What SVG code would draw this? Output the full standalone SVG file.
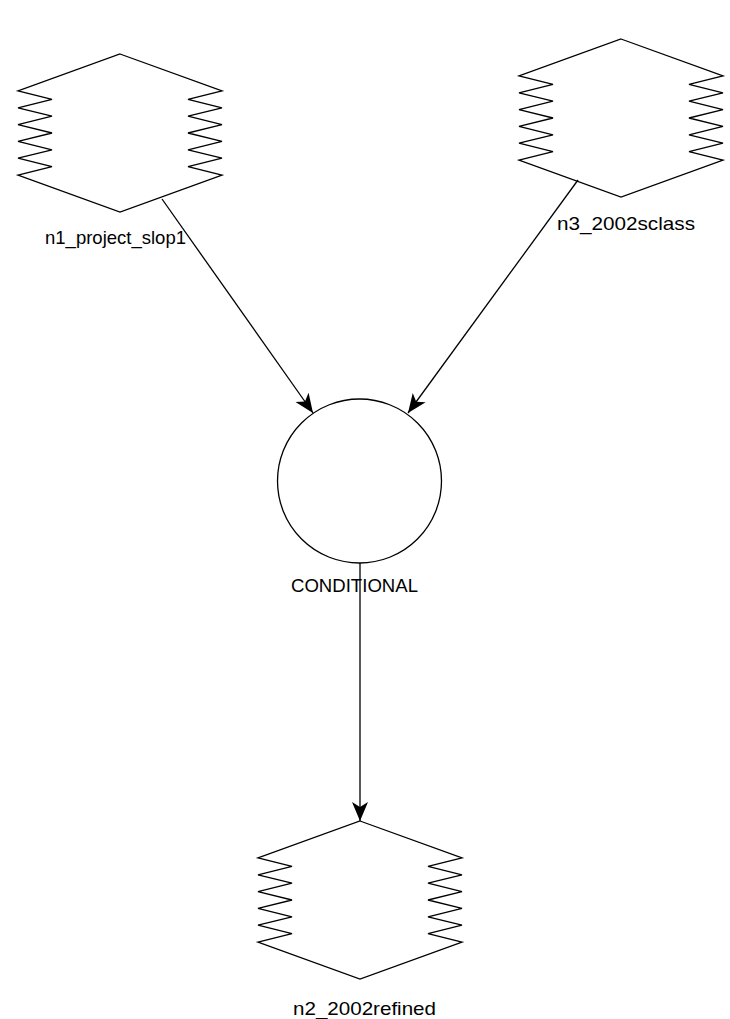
<svg xmlns="http://www.w3.org/2000/svg" width="730" height="1019" viewBox="0 0 730 1019">
  <defs>
    <style>
      .shape { fill: #ffffff; stroke: #000000; stroke-width: 1.3; stroke-linejoin: miter; }
      .label { font-family: "Liberation Sans", Arial, sans-serif; font-size: 19px; fill: #000000; }
      .edge { fill: none; stroke: #000000; stroke-width: 1.3; }
    </style>
    <marker id="arrow" viewBox="-22 -10 24 20" refX="0" refY="0" markerWidth="24" markerHeight="20" markerUnits="userSpaceOnUse" orient="auto">
      <path d="M0,0 L-19,-8 L-14,0 L-19,8 Z" fill="#000000"/>
    </marker>
    <path id="store" class="shape" d="M0,0 L102,37 L68,45.4 L102,53.8 L68,62.2 L102,70.6 L68,79 L102,87.4 L68,95.8 L102,104.2 L68,112.6 L102,121 L0,158 L-102,121 L-68,112.6 L-102,104.2 L-68,95.8 L-102,87.4 L-68,79 L-102,70.6 L-68,62.2 L-102,53.8 L-68,45.4 L-102,37 Z"/>
  </defs>
  <rect x="0" y="0" width="730" height="1019" fill="#ffffff"/>

  <g id="n1_project_slop1">
    <use href="#store" x="120" y="54"/>
    <text class="label" x="45" y="244" textLength="141" lengthAdjust="spacingAndGlyphs">n1_project_slop1</text>
  </g>

  <g id="n3_2002sclass">
    <use href="#store" x="621" y="39"/>
    <text class="label" x="557" y="230" textLength="138" lengthAdjust="spacingAndGlyphs">n3_2002sclass</text>
  </g>

  <g id="conditional">
    <circle class="shape" cx="359.5" cy="481" r="82"/>
    <text class="label" x="291" y="592" textLength="127" lengthAdjust="spacingAndGlyphs">CONDITIONAL</text>
  </g>

  <g id="n2_2002refined">
    <use href="#store" x="360" y="821"/>
    <text class="label" x="293" y="1015" textLength="143" lengthAdjust="spacingAndGlyphs">n2_2002refined</text>
  </g>

  <g id="connectors">
    <line class="edge" x1="162" y1="199" x2="313" y2="413" marker-end="url(#arrow)"/>
    <line class="edge" x1="578" y1="180" x2="408" y2="413" marker-end="url(#arrow)"/>
    <line class="edge" x1="360" y1="563" x2="360" y2="821" marker-end="url(#arrow)"/>
  </g>
</svg>
